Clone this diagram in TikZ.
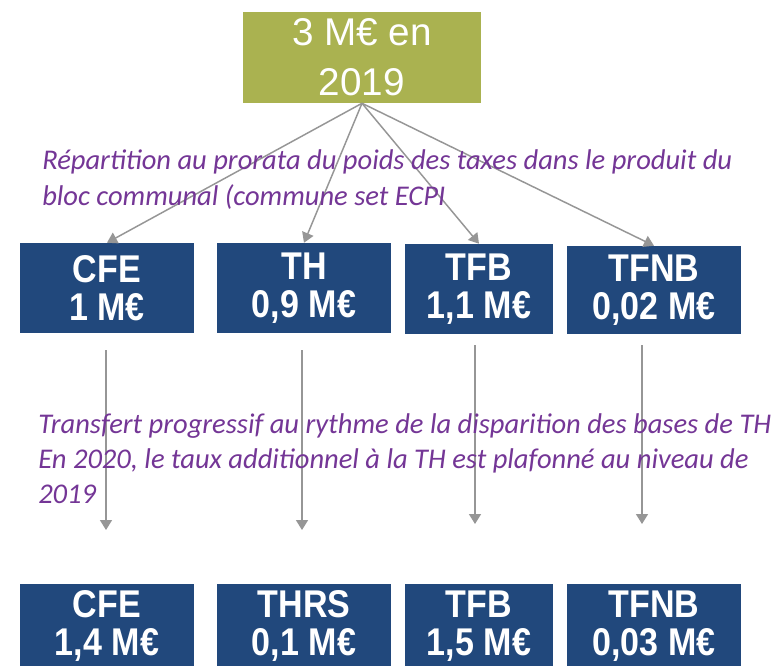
\documentclass[tikz,border=0pt]{standalone}
\usepackage{fontspec}
\setmainfont{Liberation Sans}
\newfontfamily\notefont{Carlito}
\newfontfamily\taxfont[FakeStretch=0.88]{Liberation Sans}
\usetikzlibrary{arrows.meta}
\definecolor{totalolive}{RGB}{170,178,80}
\definecolor{taxblue}{RGB}{33,72,124}
\definecolor{flechegray}{RGB}{150,150,150}
\definecolor{notepurple}{RGB}{116,54,150}
\begin{document}
\begin{tikzpicture}[x=0.75pt,y=-0.75pt,
  taxbox/.style={fill=taxblue, text=white, align=center, inner sep=0pt,
    minimum width=130.5pt, minimum height=67.5pt,
    font=\taxfont\bfseries\fontsize{29}{28.5}\selectfont},
  fleche/.style={draw=flechegray, line width=1.1pt, -{Triangle[width=9pt,length=7.5pt]}},
  note/.style={text=notepurple, align=left, inner sep=0pt, anchor=north west,
    font=\notefont\itshape\fontsize{21.4}{26.5}\selectfont}]
\useasboundingbox (0,0) rectangle (771,665);
\clip (0,0) rectangle (771,665);
\fill[white] (0,0) rectangle (771,665);
\node[fill=totalolive, text=white, align=center, inner sep=0pt,
  minimum width=178.5pt, minimum height=68.25pt,
  font=\fontsize{29}{37.5}\selectfont] (total) at (362,57.5) {3 M€ en\\2019};
% montants 2019
\node[taxbox] (cfeA) at (107,288) {CFE\\1 M€};
\node[taxbox] (thA) at (304,288) {TH\\0,9 M€};
\node[taxbox, minimum width=111pt] (tfbA) at (479,289) {TFB\\1,1 M€};
\node[taxbox, minimum height=66pt] (tfnbA) at (654,290) {TFNB\\0,02 M€};
% montants apres transfert
\node[taxbox, minimum height=63pt] (cfeB) at (107,626) {CFE\\1,4 M€};
\node[taxbox, minimum height=63pt] (thrsB) at (304,626) {THRS\\0,1 M€};
\node[taxbox, minimum width=111pt, minimum height=63pt] (tfbB) at (479,626) {TFB\\1,5 M€};
\node[taxbox, minimum height=63pt] (tfnbB) at (654,626) {TFNB\\0,03 M€};
\draw[fleche] (total.south) -- (cfeA.north);
\draw[fleche] (total.south) -- (thA.north);
\draw[fleche] (total.south) -- (tfbA.north);
\draw[fleche] (total.south) -- (tfnbA.north);
\coordinate (cfeFrom) at (106,350);
\coordinate (cfeTo) at (106,530);
\coordinate (thFrom) at (302,350);
\coordinate (thTo) at (302,530);
\coordinate (tfbFrom) at (475,345);
\coordinate (tfbTo) at (475,524);
\coordinate (tfnbFrom) at (642,345);
\coordinate (tfnbTo) at (642,524);
\draw[fleche] (cfeFrom) -- (cfeTo);
\draw[fleche] (thFrom) -- (thTo);
\draw[fleche] (tfbFrom) -- (tfbTo);
\draw[fleche] (tfnbFrom) -- (tfnbTo);
\node[note, font=\notefont\itshape\fontsize{21.4}{27}\selectfont] (repartition) at (42,149) {R\'epartition au prorata du poids des taxes dans le produit du\\bloc communal (commune set ECPI};
\node[note] (transfert) at (38,413) {Transfert progressif au rythme de la disparition des bases de TH\\En 2020, le taux additionnel \`a la TH est plafonn\'e au niveau de\\2019};
\end{tikzpicture}
\end{document}
